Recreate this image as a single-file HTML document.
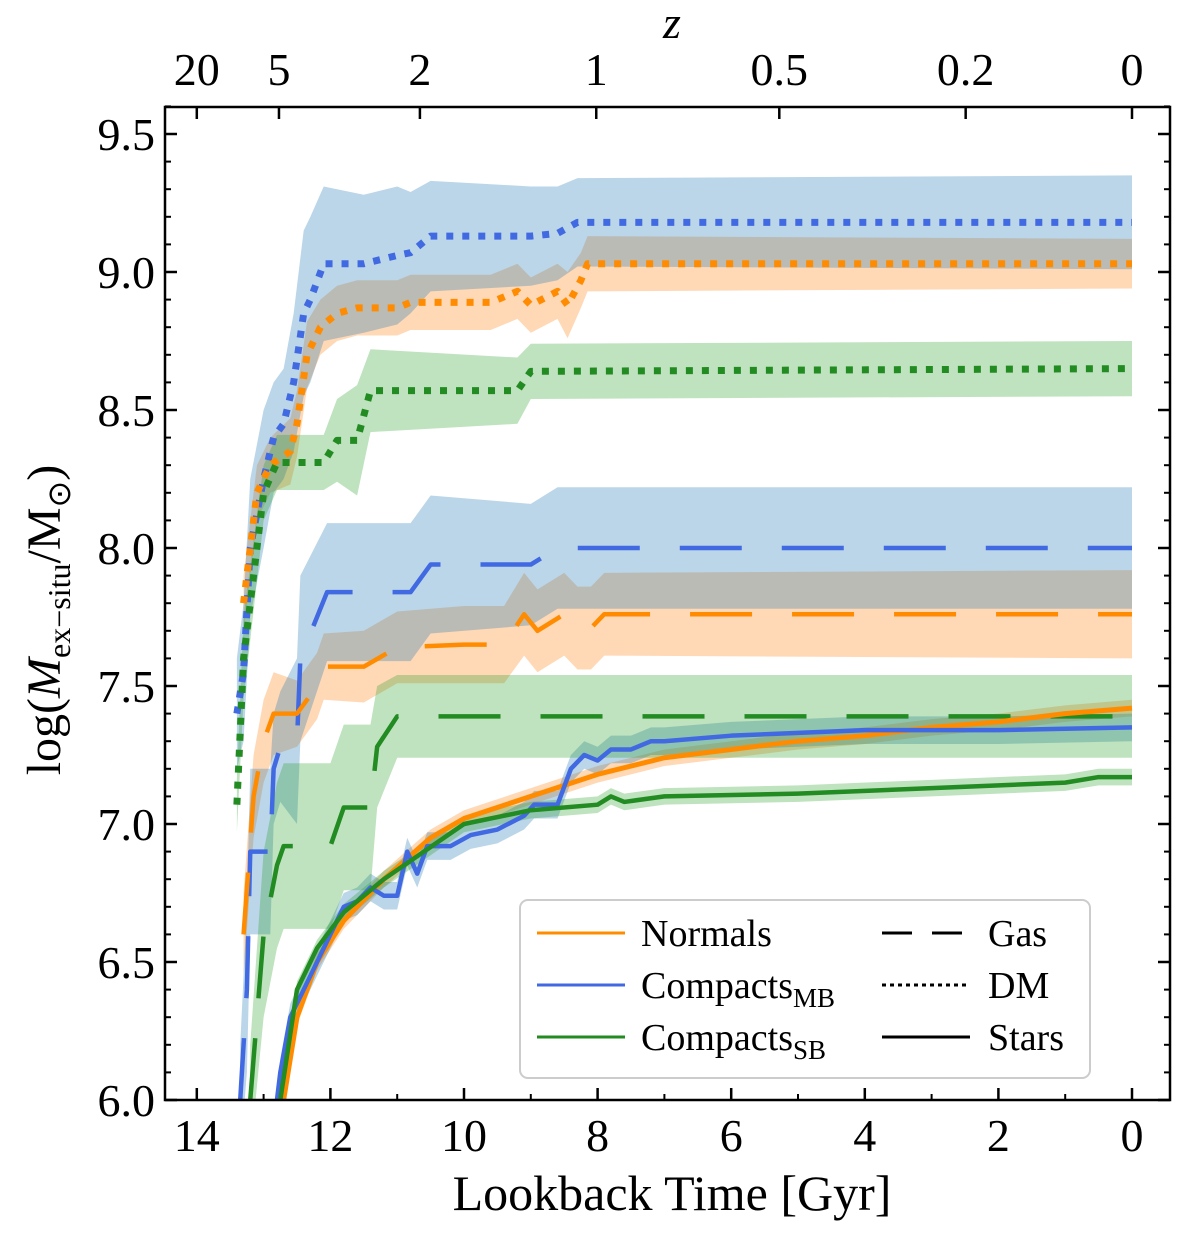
<!DOCTYPE html>
<html><head><meta charset="utf-8"><style>
body{margin:0;background:#fff}
svg text{font-family:"Liberation Serif",serif;fill:#000}
</style></head><body>
<svg id="chart" width="1200" height="1235" xmlns="http://www.w3.org/2000/svg">
<g id="bands"></g>
<g id="lines"></g>
<g id="axes"></g>
<g id="legend"></g>
</svg>
<script>
// ---- data ----
const dmBlueT=[13.4,13.3,13.2,13.0,12.85,12.7,12.55,12.4,12.3,12.1,11.5,11.0,10.8,10.5,9.0,8.6,8.3,0];
const dmBlueY=[7.4,7.55,8.0,8.25,8.4,8.45,8.6,8.85,8.9,9.03,9.03,9.06,9.07,9.13,9.13,9.14,9.18,9.18];
const dmBlueS=[0.2,0.25,0.25,0.25,0.2,0.2,0.25,0.3,0.3,0.28,0.25,0.25,0.22,0.2,0.18,0.17,0.16,0.17];
const dmOrT=[13.3,13.1,12.9,12.6,12.5,12.35,12.15,11.9,11.6,11.0,10.8,9.6,9.2,9.0,8.6,8.45,8.25,8.15,0];
const dmOrY=[7.8,8.2,8.3,8.35,8.45,8.7,8.8,8.85,8.87,8.87,8.89,8.89,8.93,8.88,8.93,8.88,8.97,9.03,9.03];
const dmOrS=[0.1,0.1,0.1,0.12,0.12,0.12,0.1,0.1,0.1,0.1,0.1,0.1,0.1,0.1,0.1,0.12,0.1,0.1,0.09];
const dmGrT=[13.4,13.3,13.1,13.0,12.8,12.1,11.9,11.6,11.4,9.2,9.0,0];
const dmGrY=[7.07,7.6,8.0,8.2,8.31,8.31,8.39,8.39,8.57,8.57,8.64,8.65];
const dmGrS=[0.1,0.15,0.12,0.1,0.1,0.1,0.15,0.2,0.15,0.12,0.1,0.1];
const gasBlueT=[13.35,13.25,13.2,12.9,12.85,12.75,12.5,12.45,12.05,11.7,10.8,10.5,9.0,8.6,0];
const gasBlueY=[6.0,6.4,6.9,6.9,7.2,7.28,7.3,7.6,7.84,7.84,7.84,7.94,7.94,8.0,8.0];
const gasBlueS=[0.2,0.3,0.3,0.3,0.2,0.2,0.3,0.3,0.25,0.25,0.25,0.25,0.22,0.22,0.22];
const gasOrT=[13.3,13.15,13.0,12.85,12.5,12.2,12.1,11.5,11.0,10.0,9.4,9.1,8.9,8.5,8.3,8.1,7.9,0];
const gasOrY=[6.6,7.1,7.3,7.4,7.4,7.5,7.57,7.57,7.64,7.65,7.65,7.76,7.7,7.76,7.71,7.71,7.76,7.76];
const gasOrS=[0.15,0.15,0.15,0.15,0.12,0.12,0.12,0.13,0.13,0.14,0.14,0.15,0.15,0.15,0.15,0.15,0.15,0.16];
const gasGrT=[13.2,13.0,12.8,12.7,12.0,11.8,11.4,11.3,11.0,0];
const gasGrY=[6.0,6.6,6.85,6.92,6.92,7.06,7.06,7.28,7.39,7.39];
const gasGrS=[0.2,0.3,0.3,0.3,0.3,0.3,0.3,0.22,0.15,0.15];
const stOrT=[12.7,12.5,12.2,11.8,11.2,10.5,10,9,8,7,6,5,4,3,2,1,0];
const stOrY=[6.0,6.3,6.5,6.65,6.8,6.95,7.02,7.1,7.18,7.24,7.27,7.3,7.32,7.35,7.37,7.4,7.42];
const stBlueT=[12.8,12.75,12.6,12.3,12.0,11.8,11.6,11.4,11.2,11.0,10.85,10.7,10.55,10.2,9.9,9.5,9.1,8.95,8.6,8.4,8.2,8.0,7.8,7.5,7.2,7.0,6.0,4,2,0];
const stBlueY=[6.0,6.1,6.3,6.45,6.6,6.7,6.72,6.77,6.74,6.74,6.9,6.82,6.92,6.92,6.96,6.98,7.03,7.07,7.07,7.2,7.25,7.23,7.27,7.27,7.3,7.3,7.32,7.34,7.34,7.35];
const stGrT=[12.75,12.5,12.2,11.8,11.2,10.6,10,9.0,8.0,7.8,7.6,7,5,3,1,0.5,0];
const stGrY=[6.0,6.4,6.55,6.68,6.8,6.9,7.0,7.05,7.07,7.1,7.08,7.1,7.11,7.13,7.15,7.17,7.17];
const xTicks=[14,12,10,8,6,4,2,0];
const yTicks=[6.0,6.5,7.0,7.5,8.0,8.5,9.0,9.5];
const zLabels=["20","5","2","1","0.5","0.2","0"];
const zLookback=[14.0,12.77,10.66,8.02,5.28,2.49,0];

// ---- axes functions ----
const L=165,R=1170,T=107,B=1100;
const X=t=>1132-t*66.8;
const Y=v=>B-(v-6)*276;
const NS="http://www.w3.org/2000/svg";
function mk(tag,attrs,parent){const e=document.createElementNS(NS,tag);for(const k in attrs)e.setAttribute(k,attrs[k]);parent.appendChild(e);return e;}
const bands=document.getElementById('bands'),lines=document.getElementById('lines'),axes=document.getElementById('axes'),leg=document.getElementById('legend');
const clip=mk('clipPath',{id:'pc'},document.getElementById('chart'));mk('rect',{x:L,y:T,width:R-L,height:B-T},clip);
bands.setAttribute('clip-path','url(#pc)');lines.setAttribute('clip-path','url(#pc)');

function band(ts,ys,ss,col,name){
  const up=ts.map((t,i)=>X(t)+','+Y(ys[i]+ss[i]));
  const lo=ts.map((t,i)=>X(t)+','+Y(ys[i]-ss[i])).reverse();
  const p=mk('polygon',{points:up.concat(lo).join(' '),fill:col,'fill-opacity':0.3},bands);
  
  
}
function line(ts,ys,col,dash,w,name){
  const p=mk('polyline',{points:ts.map((t,i)=>X(t)+','+Y(ys[i])).join(' '),fill:'none',stroke:col,'stroke-width':w,'stroke-dasharray':dash,'stroke-linejoin':'round'},lines);
  
  
}
const cB='#4169e1',cO='#ff8c00',cG='#228b22',fB='#1f77b4',fO='#ff7f0e',fG='#2ca02c';
band(dmOrT,dmOrY,dmOrS,fO,'band-dm-normals');
band(gasOrT,gasOrY,gasOrS,fO,'band-gas-normals');
band(stOrT,stOrY,stOrT.map(()=>0.03),fO,'band-stars-normals');
band(dmBlueT,dmBlueY,dmBlueS,fB,'band-dm-compacts-mb');
band(gasBlueT,gasBlueY,gasBlueS,fB,'band-gas-compacts-mb');
band(stBlueT,stBlueY,stBlueT.map(()=>0.05),fB,'band-stars-compacts-mb');
band(dmGrT,dmGrY,dmGrS,fG,'band-dm-compacts-sb');
band(gasGrT,gasGrY,gasGrS,fG,'band-gas-compacts-sb');
band(stGrT,stGrY,stGrT.map(()=>0.03),fG,'band-stars-compacts-sb');
line(dmBlueT,dmBlueY,cB,'7 9',7,'line-dm-compacts-mb');
line(dmOrT,dmOrY,cO,'7 9',7,'line-dm-normals');
line(dmGrT,dmGrY,cG,'7 9',7,'line-dm-compacts-sb');
line(gasBlueT,gasBlueY,cB,'62 40',4.5,'line-gas-compacts-mb');
line(gasOrT,gasOrY,cO,'62 40',4.5,'line-gas-normals');
line(gasGrT,gasGrY,cG,'62 40',4.5,'line-gas-compacts-sb');
line(stOrT,stOrY,cO,'none',5,'line-stars-normals');
line(stBlueT,stBlueY,cB,'none',4.5,'line-stars-compacts-mb');
line(stGrT,stGrY,cG,'none',4.5,'line-stars-compacts-sb');

// frame
const fr=mk('rect',{x:L,y:T,width:R-L,height:B-T,fill:'none',stroke:'#000','stroke-width':2.5},axes);

xTicks.forEach(t=>{
  mk('line',{x1:X(t),x2:X(t),y1:B,y2:B-12,stroke:'#000','stroke-width':2.5},axes);
  const tx=mk('text',{x:X(t),y:B+51,'font-size':46,'text-anchor':'middle'},axes);tx.textContent=t;
  
});
for(let t=13;t>0;t-=2){mk('line',{x1:X(t),x2:X(t),y1:B,y2:B-6,stroke:'#000','stroke-width':2},axes);}
yTicks.forEach(v=>{
  mk('line',{x1:L,x2:L+12,y1:Y(v),y2:Y(v),stroke:'#000','stroke-width':2.5},axes);
  mk('line',{x1:R,x2:R-12,y1:Y(v),y2:Y(v),stroke:'#000','stroke-width':2.5},axes);
  const tx=mk('text',{x:L-10,y:Y(v)+16,'font-size':46,'text-anchor':'end'},axes);tx.textContent=v.toFixed(1);
  
});
for(let v=6.1;v<9.6;v+=0.1){mk('line',{x1:L,x2:L+6,y1:Y(v),y2:Y(v),stroke:'#000','stroke-width':2},axes);mk('line',{x1:R,x2:R-6,y1:Y(v),y2:Y(v),stroke:'#000','stroke-width':2},axes);}
zLabels.forEach((s,i)=>{
  const x=X(zLookback[i]);
  mk('line',{x1:x,x2:x,y1:T,y2:T+12,stroke:'#000','stroke-width':2.5},axes);
  const tx=mk('text',{x:x,y:T-22,'font-size':46,'text-anchor':'middle'},axes);tx.textContent=s;
  
});
let t1=mk('text',{x:672,y:1210,'font-size':50,'text-anchor':'middle'},axes);t1.textContent='Lookback Time [Gyr]';

let t2=mk('text',{x:672,y:38,'font-size':46,'text-anchor':'middle','font-style':'italic'},axes);t2.textContent='z';

let t3=mk('text',{x:0,y:0,'font-size':48,'text-anchor':'middle',transform:'translate(60,620) rotate(-90)'},axes);
t3.innerHTML='log(<tspan font-style="italic">M</tspan><tspan font-size="32" dy="10">ex−situ</tspan><tspan dy="-10">/M</tspan><tspan font-size="32" dy="10">⊙</tspan><tspan dy="-10">)</tspan>';


// legend
const lb=mk('rect',{x:520,y:900,width:570,height:178,rx:8,fill:'#fff','fill-opacity':0.85,stroke:'#ccc','stroke-width':2},leg);

const legL=[['Normals','',cO],['Compacts','MB',cB],['Compacts','SB',cG]];
legL.forEach((e,i)=>{const y=933+i*52;
  mk('line',{x1:537,x2:625,y1:y,y2:y,stroke:e[2],'stroke-width':3},leg);
  const tx=mk('text',{x:641,y:y+13,'font-size':38},leg);tx.innerHTML=e[0]+(e[1]?'<tspan font-size="27" dy="9">'+e[1]+'</tspan>':'');
  });
const legR=[['Gas','30 20'],['DM','4 4'],['Stars','none']];
legR.forEach((e,i)=>{const y=933+i*52;
  mk('line',{x1:882,x2:970,y1:y,y2:y,stroke:'#000','stroke-width':3,'stroke-dasharray':e[1]},leg);
  const tx=mk('text',{x:988,y:y+13,'font-size':38},leg);tx.textContent=e[0];
  });
</script>
</body></html>
